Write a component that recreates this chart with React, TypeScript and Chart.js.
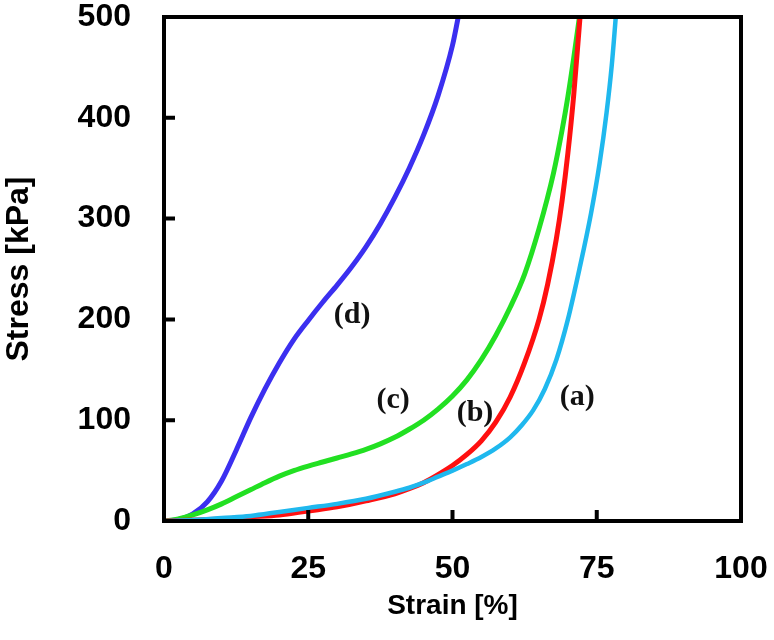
import React, { useEffect, useRef } from "react";
import { Chart, registerables } from "chart.js";

Chart.register(...registerables);

// Curve (a) – cyan
const strainA = [0, 5, 10, 15, 20, 25, 30, 35, 40, 42.5, 45, 47.5, 50, 52.5, 55, 57.5, 60, 62, 64, 66, 68, 70, 72, 74, 75.5, 76.7, 77.6, 78.3];
const stressA = [0, 1, 3, 5, 9, 13, 17, 22, 29, 33, 38, 44, 50, 56.5, 63.5, 72, 83, 95, 110, 131, 160, 200, 250, 305, 355, 405, 452, 500];

// Curve (b) – red
const strainB = [0, 5, 10, 15, 20, 25, 30, 35, 40, 42.5, 45, 47.5, 50, 52.5, 55, 57.5, 60, 62.5, 65, 66.5, 68, 69, 70, 71, 72.1];
const stressB = [0, 1, 2, 4, 6, 10, 14, 20, 27, 32, 38, 46, 55, 66, 79.5, 98, 123, 157, 200, 235, 280, 318, 365, 422, 500];

// Curve (c) – green
const strainC = [0, 2.5, 5, 7.5, 10, 12.5, 15, 17.5, 20, 22.5, 25, 27.5, 30, 32.5, 35, 37.5, 40, 42.5, 45, 47.5, 50, 52.5, 55, 57.5, 60, 62.5, 65, 67.5, 69, 70, 71, 72];
const stressC = [0, 2, 6, 11, 17, 24, 31, 38, 44.5, 50, 54.5, 58.5, 62.5, 66.5, 71, 76.5, 83, 91, 100, 111, 124, 140, 160, 184, 212, 245, 290, 345, 388, 421, 459, 500];

// Curve (d) – blue
const strainD = [0, 2.5, 5, 7.5, 10, 12.5, 15, 17.5, 20, 22.5, 25, 27.5, 30, 32.5, 35, 37.5, 40, 42.5, 45, 47.5, 50, 51];
const stressD = [0, 1.5, 7, 19, 40, 70, 102, 131, 157, 180, 199, 217, 234, 252, 272, 295, 321, 350, 383, 422, 472, 500];

// Curve annotations
const labelTexts = ["(a)", "(b)", "(c)", "(d)"];
const labelStrain = [71.6, 53.9, 39.7, 32.6];
const labelStress = [123, 107, 120, 204];

const xTicks = [0, 25, 50, 75, 100];
const yTicks = [0, 100, 200, 300, 400, 500];

const toPts = (xs: number[], ys: number[]) => xs.map((x, i) => ({ x, y: ys[i] }));

const SANS = '"Liberation Sans", Arial, sans-serif';

const framePlugin = {
  id: "frame",
  afterDatasetsDraw(chart: any) {
    const { ctx, chartArea, scales } = chart;
    const { left, right, top, bottom } = chartArea;
    ctx.save();
    ctx.strokeStyle = "#000";
    ctx.lineWidth = 4;
    ctx.lineCap = "butt";
    ctx.beginPath();
    for (const v of xTicks) {
      if (v === 0 || v === 100) continue;
      const px = scales.x.getPixelForValue(v);
      ctx.moveTo(px, bottom);
      ctx.lineTo(px, bottom - 11);
    }
    for (const v of yTicks) {
      if (v === 0 || v === 500) continue;
      const py = scales.y.getPixelForValue(v);
      ctx.moveTo(left, py);
      ctx.lineTo(left + 11, py);
    }
    ctx.stroke();
    ctx.lineJoin = "miter";
    ctx.strokeRect(left, top, right - left, bottom - top);
    ctx.fillStyle = "#111";
    ctx.font = 'bold 30px "Liberation Serif", "Times New Roman", serif';
    ctx.textAlign = "center";
    ctx.textBaseline = "middle";
    labelTexts.forEach((t, i) => {
      ctx.fillText(t, scales.x.getPixelForValue(labelStrain[i]), scales.y.getPixelForValue(labelStress[i]));
    });
    ctx.restore();
  },
};

export default function App() {
  const ref = useRef<HTMLCanvasElement | null>(null);
  useEffect(() => {
    if (!ref.current) return;
    const mk = (label: string, xs: number[], ys: number[], color: string, w: number) => ({
      label,
      data: toPts(xs, ys),
      borderColor: color,
      backgroundColor: color,
      borderWidth: w,
      pointRadius: 0,
      fill: false,
      cubicInterpolationMode: "monotone" as const,
    });
    const chart = new Chart(ref.current, {
      type: "line",
      data: {
        datasets: [
          mk("(a)", strainA, stressA, "#1fb8ee", 4.5),
          mk("(b)", strainB, stressB, "#ff1010", 5),
          mk("(c)", strainC, stressC, "#22e022", 5),
          mk("(d)", strainD, stressD, "#3b2ff0", 5),
        ],
      },
      options: {
        responsive: false,
        animation: false,
        layout: { padding: { top: 17, right: 33, left: 0, bottom: 0 } },
        plugins: { legend: { display: false }, tooltip: { enabled: false } },
        scales: {
          x: {
            type: "linear",
            min: 0,
            max: 100,
            afterBuildTicks: (s: any) => {
              s.ticks = xTicks.map((v) => ({ value: v }));
            },
            afterFit: (s: any) => {
              s.height = 119;
              s.paddingLeft = 0;
              s.paddingRight = 0;
            },
            grid: { display: false },
            border: { display: false },
            ticks: {
              color: "#000",
              padding: 21,
              font: { family: SANS, size: 32, weight: "bold" },
            },
            title: {
              display: true,
              text: "Strain [%]",
              color: "#000",
              font: { family: SANS, size: 28, weight: "bold" },
              padding: { top: 0, bottom: 17 },
            },
          },
          y: {
            type: "linear",
            min: 0,
            max: 500,
            afterBuildTicks: (s: any) => {
              s.ticks = yTicks.map((v) => ({ value: v }));
            },
            afterFit: (s: any) => {
              s.width = 164;
              s.paddingTop = 0;
              s.paddingBottom = 0;
            },
            grid: { display: false },
            border: { display: false },
            ticks: {
              color: "#000",
              padding: 25,
              font: { family: SANS, size: 32, weight: "bold" },
            },
            title: {
              display: true,
              text: "Stress [kPa]",
              color: "#000",
              font: { family: SANS, size: 32, weight: "bold" },
              padding: { top: 0, bottom: 0 },
            },
          },
        },
      },
      plugins: [framePlugin],
    });
    return () => chart.destroy();
  }, []);
  return (
    <div style={{ position: "absolute", left: 0, top: 0, width: 774, height: 640, background: "#fff" }}>
      <canvas ref={ref} width={774} height={640} style={{ display: "block" }} />
    </div>
  );
}
